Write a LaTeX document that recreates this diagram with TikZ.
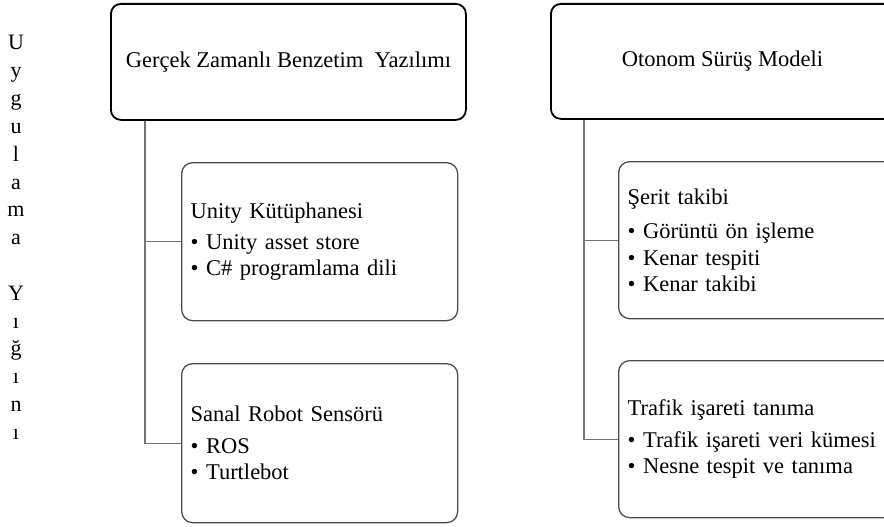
\documentclass[tikz,border=0pt]{standalone}
\usepackage{fontspec}
\setmainfont{Liberation Serif}
\begin{document}
\begin{tikzpicture}[x=1pt,y=-1pt,
  txt/.style={font=\fontsize{22.5}{26.5}\selectfont},
  topbox/.style={txt,draw=black,line width=1.8pt,rounded corners=10pt,anchor=north west,inner sep=0pt,align=center},
  subbox/.style={txt,draw=black!70,line width=1.3pt,rounded corners=11pt,anchor=north west,inner xsep=9pt,inner ysep=0pt,text width=258pt,minimum height=158pt,align=left},
  conn/.style={draw=black!55,line width=1.2pt},
  vlet/.style={font=\fontsize{22}{24}\selectfont,anchor=base,inner sep=0pt}
]
\clip (0,0) rectangle (884,527);
\useasboundingbox (0,0) rectangle (884,527);
% top boxes
\node[topbox,minimum width=355pt,minimum height=116pt] (topL) at (110,3) {Gerçek Zamanlı Benzetim \ Yazılımı};
\node[topbox,minimum width=343pt,minimum height=115pt] (topR) at (550,3) {Otonom Sürüş Modeli};
% sub boxes left
\node[subbox] (unity) at (181,162) {Unity Kütüphanesi\\[4pt]\textbullet\ Unity asset store\\\textbullet\ C\# programlama dili};
\node[subbox,minimum height=159pt] (sanal) at (181,363) {Sanal Robot Sensörü\\[5pt]\textbullet\ ROS\\\textbullet\ Turtlebot};
% sub boxes right
\node[subbox,minimum height=157pt] (serit) at (618,161) {Şerit takibi\\[8pt]\textbullet\ Görüntü ön işleme\\\textbullet\ Kenar tespiti\\\textbullet\ Kenar takibi};
\node[subbox,minimum height=157pt] (trafik) at (618,360) {Trafik işareti tanıma\\[5pt]\textbullet\ Trafik işareti veri kümesi\\\textbullet\ Nesne tespit ve tanıma};
% connectors
\coordinate (xL) at (145,0);
\coordinate (xR) at (584,0);
\draw[conn] (topL.south -| xL) |- (sanal.west);
\draw[conn] (xL |- unity.west) -- (unity.west);
\draw[conn] (topR.south -| xR) |- (trafik.west);
\draw[conn] (xR |- serit.west) -- (serit.west);
% vertical label
\foreach \l [count=\i from 0] in {U,y,g,u,l,a,m,a}
  \node[vlet] (va\i) at (16,{50+27.8*\i}) {\l};
\foreach \l [count=\i from 9] in {Y,ı,ğ,ı,n,ı}
  \node[vlet] (vb\i) at (16,{50+27.8*\i}) {\l};
\end{tikzpicture}
\end{document}
